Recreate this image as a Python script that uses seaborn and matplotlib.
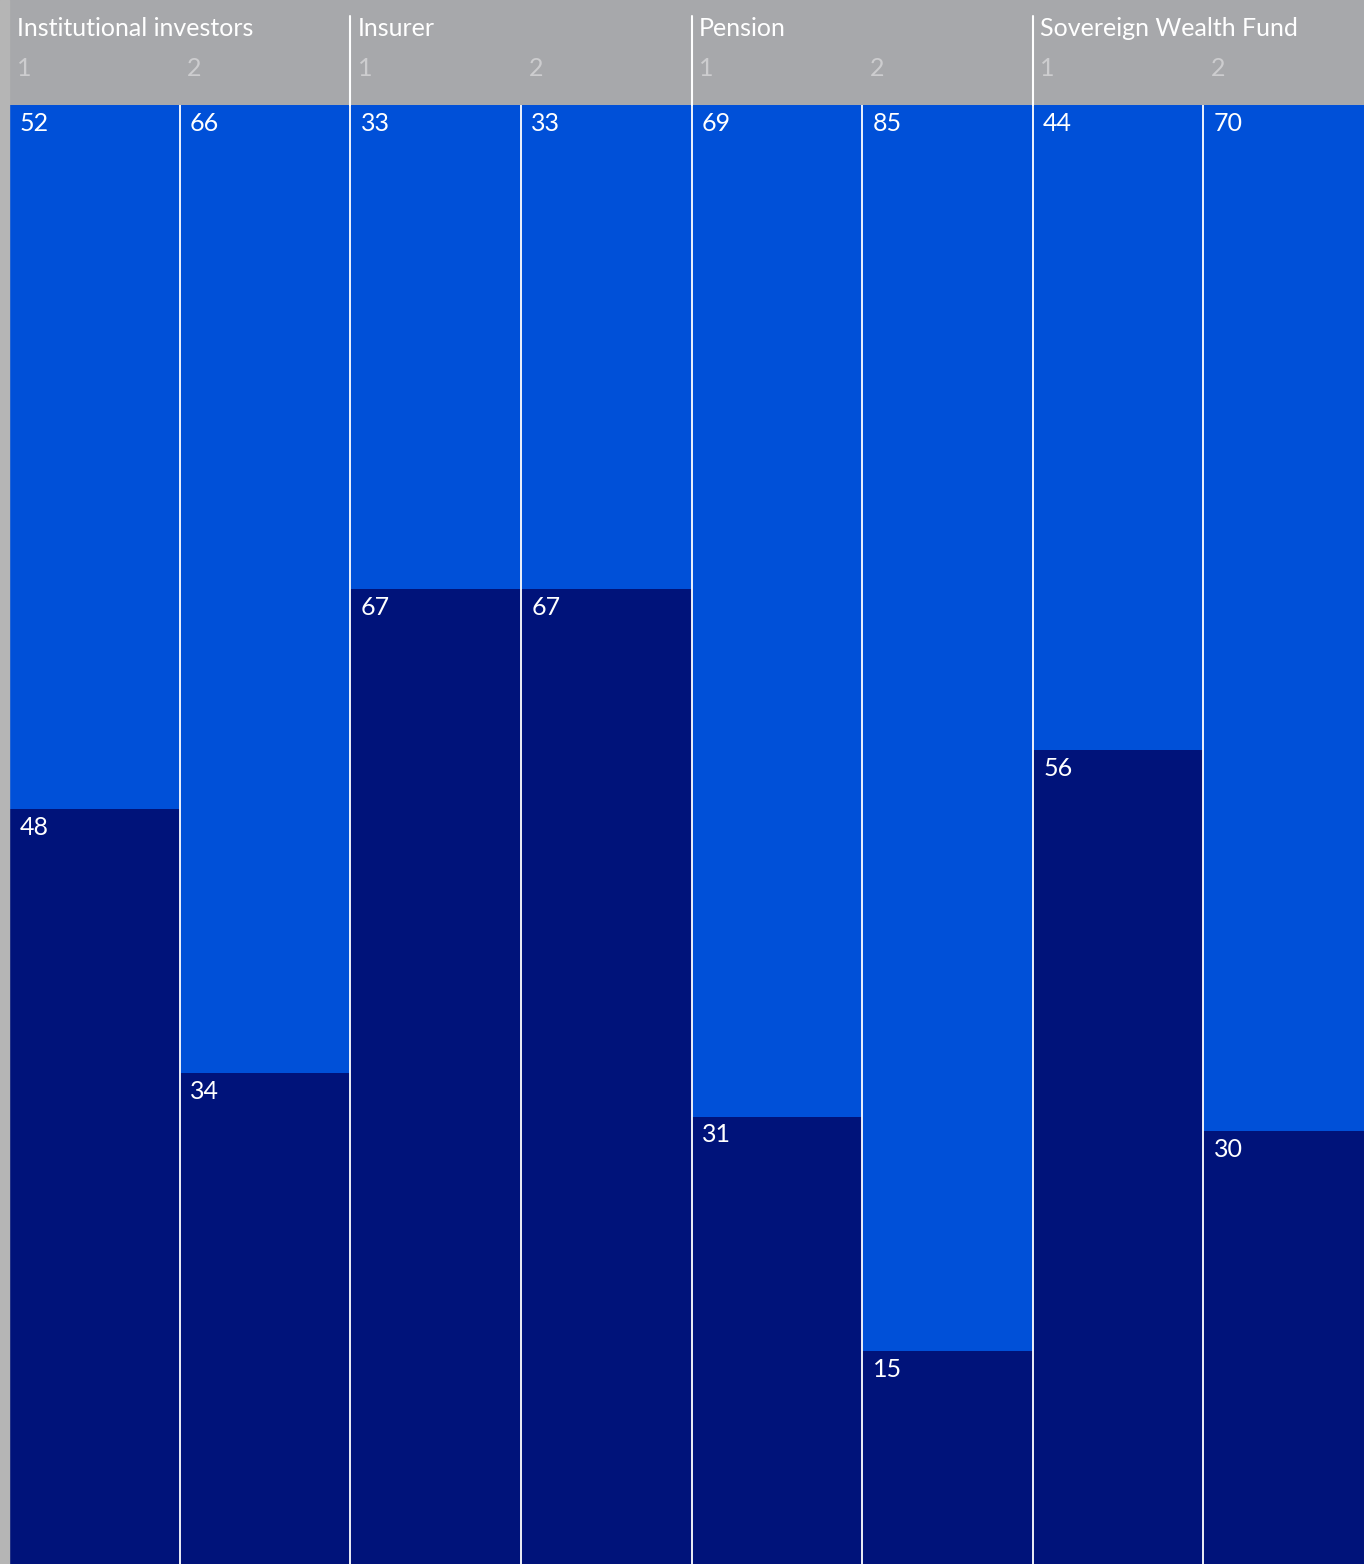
import matplotlib
matplotlib.use("Agg")
import matplotlib.pyplot as plt
import matplotlib.transforms as mtransforms
from matplotlib.patches import Rectangle
import pandas as pd
import seaborn as sns

# datos
groups = ["Institutional investors", "Insurer", "Pension", "Sovereign Wealth Fund"]
waves = ["1", "2"]
top_labels = [52, 66, 33, 33, 69, 85, 44, 70]
bottom_labels = [48, 34, 67, 67, 31, 15, 56, 30]
# alturas tal como se dibujan (la primera columna esta dibujada en 52, no en 48)
dark_heights = [52, 34, 67, 67, 31, 15, 56, 30]

LIGHT = "#0050D8"
DARK = "#00137A"
HEADER = "#A7A8AB"
STRIP = "#B5B5B5"
W, H = 1364, 1564

cols = [f"{g} {w}" for g in groups for w in waves]
df = pd.DataFrame({"col": cols, "total": [100] * len(cols), "dark": dark_heights})

sns.set_theme(style="white")
plt.rcParams["font.family"] = ["Lato", "DejaVu Sans"]

fig = plt.figure(figsize=(W / 100, H / 100), dpi=100, facecolor=HEADER)
fig.patches.append(Rectangle((0, 0), 9 / W, 1, transform=fig.transFigure, color=STRIP, zorder=0))

# ejes en pixeles: x 9..1374, y 105..1571
ax = fig.add_axes([9 / W, (H - 1571) / H, 1365 / W, (1571 - 105) / H])
ax.set_facecolor(LIGHT)

sns.barplot(data=df, x="col", y="total", order=cols, color=LIGHT, width=1.0,
            linewidth=0, saturation=1, ax=ax)
sns.barplot(data=df, x="col", y="dark", order=cols, color=DARK, width=1.0,
            linewidth=0, saturation=1, ax=ax)

ax.set_xlim(-0.5, len(cols) - 0.5)
ax.set_ylim(0, 100)
ax.set_axis_off()

# separadores verticales entre columnas
for i in range(len(cols) - 1):
    ax.axvline(i + 0.5, color="white", linewidth=1.3, zorder=5)

# etiquetas de valores
for i, (t, b, d) in enumerate(zip(top_labels, bottom_labels, dark_heights)):
    ax.annotate(str(t), (i - 0.5, 100), xytext=(7.5, -5), textcoords="offset points",
                color="white", fontsize=18, ha="left", va="top")
    ax.annotate(str(b), (i - 0.5, d), xytext=(7.5, -5), textcoords="offset points",
                color="white", fontsize=18, ha="left", va="top")

# cabecera
trans = mtransforms.blended_transform_factory(ax.transData, fig.transFigure)
for gi, g in enumerate(groups):
    x0 = gi * 2 - 0.5
    ax.text(x0 + 0.045, 1 - 36 / H, g, transform=trans, color="white", fontsize=18,
            ha="left", va="baseline", clip_on=False)
    for wi, w in enumerate(waves):
        ax.text(x0 + wi + 0.045, 1 - 76 / H, w, transform=trans, color="#CDCDCF",
                fontsize=18, ha="left", va="baseline", clip_on=False)
    if gi > 0:
        ax.plot([x0, x0], [1 - 16 / H, 1 - 105 / H], transform=trans, color="white",
                linewidth=1.5, clip_on=False)

plt.savefig("out.png", dpi=100, facecolor=HEADER)
